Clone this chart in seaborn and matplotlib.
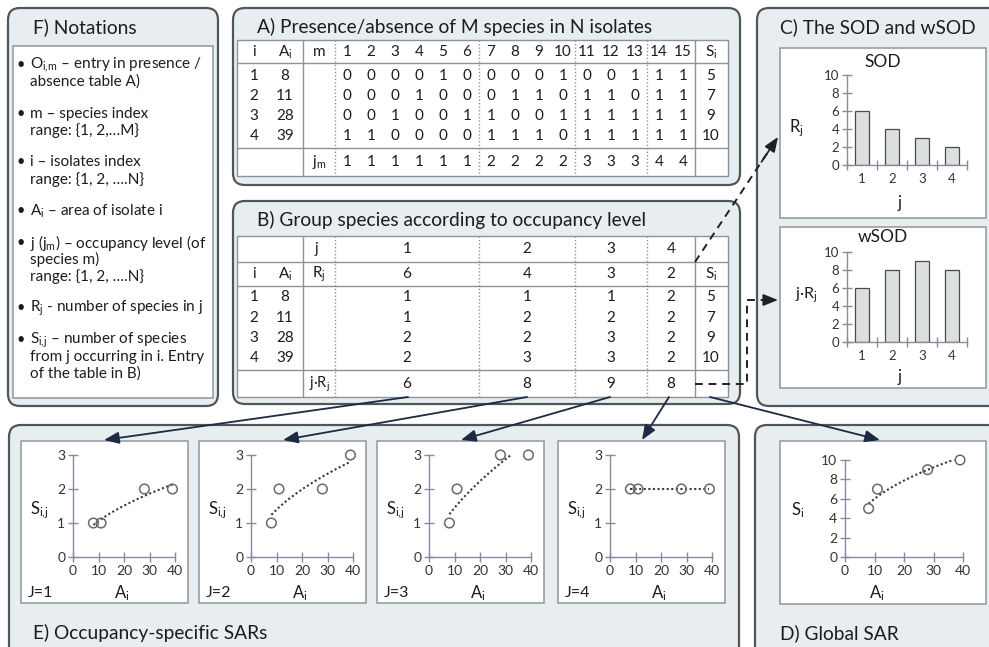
import numpy as np
import pandas as pd
import matplotlib
matplotlib.use("Agg")
import matplotlib.pyplot as plt
from matplotlib.patches import FancyBboxPatch, Rectangle, FancyArrowPatch
import seaborn as sns

# ---------------- data ----------------
isolate_ids = [1, 2, 3, 4]
isolate_area = [8, 11, 28, 39]
species_ids = list(range(1, 16))
presence = [
    [0, 0, 0, 0, 1, 0, 0, 0, 0, 1, 0, 0, 1, 1, 1],
    [0, 0, 0, 1, 0, 0, 0, 1, 1, 0, 1, 1, 0, 1, 1],
    [0, 0, 1, 0, 0, 1, 1, 0, 0, 1, 1, 1, 1, 1, 1],
    [1, 1, 0, 0, 0, 0, 1, 1, 1, 0, 1, 1, 1, 1, 1],
]
species_occupancy = [1, 1, 1, 1, 1, 1, 2, 2, 2, 2, 3, 3, 3, 4, 4]
isolate_richness = [5, 7, 9, 10]
occupancy_levels = [1, 2, 3, 4]
species_per_level = [6, 4, 3, 2]
weighted_per_level = [6, 8, 9, 8]
richness_by_level = [
    [1, 1, 1, 2],
    [1, 2, 2, 2],
    [2, 2, 3, 2],
    [2, 3, 3, 2],
]
sod_yticks = [0, 2, 4, 6, 8, 10]
sar_xticks = [0, 10, 20, 30, 40]
sar_yticks = [0, 1, 2, 3]
global_yticks = [0, 2, 4, 6, 8, 10]

notations = [
    [r"O$_{i,\!m}$ – entry in presence /", "absence table A)"],
    ["m – species index", "range: {1, 2,…M}"],
    ["i – isolates index", "range: {1, 2, ….N}"],
    ["A$_i$ – area of isolate i"],
    ["j (j$_m$) – occupancy level (of", "species m)", "range: {1, 2, ….N}"],
    ["R$_j$ - number of species in j"],
    [r"S$_{i,\!j}$ – number of species", "from j occurring in i. Entry", "of the table in B)"],
]

# ---------------- style ----------------
sns.set_theme(style="white")
plt.rcParams["font.family"] = ["Lato", "DejaVu Sans"]
plt.rcParams["mathtext.fontset"] = "custom"
plt.rcParams["mathtext.rm"] = "Lato"
plt.rcParams["mathtext.it"] = "Lato"
plt.rcParams["mathtext.default"] = "regular"

W, H = 989, 647
PANEL_FC = "#e8edef"
PANEL_EC = "#50575c"
BOX_EC = "#8e979c"
TABLE_EC = "#8a9398"
TXT = "#1c1c1c"
AXIS_C = "#8a8a9c"
BAR_FC = "#dcdfdf"
BAR_EC = "#4a4a4a"
MARK_C = "#6a6a6a"
TREND_C = "#3a3a3a"
ARROW_C = "#1e2a44"

fig = plt.figure(figsize=(W / 100, H / 100), dpi=100)
canvas = fig.add_axes([0, 0, 1, 1])
canvas.set_xlim(0, W)
canvas.set_ylim(H, 0)
canvas.axis("off")


def rounded(x0, y0, x1, y1, r=12, fc=PANEL_FC, ec=PANEL_EC, lw=1.6, z=1):
    canvas.add_patch(FancyBboxPatch((x0, y0), x1 - x0, y1 - y0,
                                    boxstyle=f"round,pad=0,rounding_size={r}",
                                    fc=fc, ec=ec, lw=lw, zorder=z))


def white_box(x0, y0, x1, y1):
    canvas.add_patch(Rectangle((x0, y0), x1 - x0, y1 - y0, fc="white",
                               ec=BOX_EC, lw=1.1, zorder=2))


def txt(x, y, s, size=11, ha="center", va="center", **kw):
    canvas.text(x, y, s, fontsize=size, ha=ha, va=va, color=TXT, zorder=5, **kw)


def hline(y, x0, x1, dotted=False):
    canvas.plot([x0, x1], [y, y], color=TABLE_EC, lw=1.0,
                ls=(0, (1, 1.5)) if dotted else "-", zorder=4)


def vline(x, y0, y1, dotted=False):
    canvas.plot([x, x], [y0, y1], color=TABLE_EC, lw=1.0,
                ls=(0, (1, 1.5)) if dotted else "-", zorder=4)


TITLE = 13.8
CELL = 11

# ---------------- panels ----------------
rounded(8, 8, 218, 406)       # F
rounded(233, 8, 740, 185)     # A
rounded(233, 201, 740, 404)   # B
rounded(757, 8, 1000, 406)    # C
rounded(9, 425, 739, 670)     # E
rounded(755, 425, 1000, 670)  # D

txt(33, 27, "F) Notations", TITLE, ha="left")
txt(257, 27, "A) Presence/absence of M species in N isolates", TITLE, ha="left")
txt(257, 220, "B) Group species according to occupancy level", TITLE, ha="left")
txt(780, 27, "C) The SOD and wSOD", TITLE, ha="left")
txt(33, 633, "E) Occupancy-specific SARs", TITLE, ha="left")
txt(780, 633, "D) Global SAR", TITLE, ha="left")

# ---------------- F: notations ----------------
white_box(13, 46, 213, 398)
y = 65
for item in notations:
    txt(21, y, "•", 10.5, ha="center")
    for k, line in enumerate(item):
        txt(30, y, line, 11, ha="left")
        y += 16.7
    y += 15.3

# ---------------- table geometry ----------------
TX0, TX1 = 237, 728
COL_SPLIT, COL_M, COL_S = 303, 335, 695
GROUP_LINES = [479, 575, 647]
X_I, X_A, X_M, X_S = 254, 285, 319, 711
species_x = [COL_M + 24 * (k + 0.5) for k in range(15)]
group_x = [407, 527, 611, 671]

# ---------------- A: presence / absence table ----------------
ay = [40, 63, 148, 176]
canvas.add_patch(Rectangle((TX0, ay[0]), TX1 - TX0, ay[-1] - ay[0], fc="white",
                           ec=TABLE_EC, lw=1.0, zorder=3))
for yy in ay[1:-1]:
    hline(yy, TX0, TX1)
for xx in (COL_SPLIT, COL_S):
    vline(xx, ay[0], ay[-1])
for xx in [COL_M] + GROUP_LINES:
    vline(xx, ay[0], ay[-1], dotted=True)

hy = 52
txt(X_I, hy, "i", CELL)
txt(X_A, hy, "A$_i$", CELL)
txt(X_M, hy, "m", CELL)
for sx, sid in zip(species_x, species_ids):
    txt(sx, hy, str(sid), CELL)
txt(X_S, hy, "S$_i$", CELL)

row_y = [76, 96, 116, 136]
for r, ry in enumerate(row_y):
    txt(X_I, ry, str(isolate_ids[r]), CELL)
    txt(X_A, ry, str(isolate_area[r]), CELL)
    for sx, v in zip(species_x, presence[r]):
        txt(sx, ry, str(v), CELL)
    txt(X_S, ry, str(isolate_richness[r]), CELL)

txt(X_M, 162, "j$_m$", CELL)
for sx, v in zip(species_x, species_occupancy):
    txt(sx, 162, str(v), CELL)

# ---------------- B: grouped table ----------------
by = [236, 262, 286, 370, 397]
canvas.add_patch(Rectangle((TX0, by[0]), TX1 - TX0, by[-1] - by[0], fc="white",
                           ec=TABLE_EC, lw=1.0, zorder=3))
for yy in by[1:-1]:
    hline(yy, TX0, TX1)
for xx in (COL_SPLIT, COL_S):
    vline(xx, by[0], by[-1])
for xx in [COL_M] + GROUP_LINES:
    vline(xx, by[0], by[-1], dotted=True)

txt(316, 249, "j", CELL)
for gx, jv in zip(group_x, occupancy_levels):
    txt(gx, 249, str(jv), CELL)
txt(X_I, 274, "i", CELL)
txt(X_A, 274, "A$_i$", CELL)
txt(X_M, 274, "R$_j$", CELL)
for gx, rv in zip(group_x, species_per_level):
    txt(gx, 274, str(rv), CELL)
txt(X_S, 274, "S$_i$", CELL)
brow_y = [297, 318, 338, 358]
for r, ry in enumerate(brow_y):
    txt(X_I, ry, str(isolate_ids[r]), CELL)
    txt(X_A, ry, str(isolate_area[r]), CELL)
    for gx, v in zip(group_x, richness_by_level[r]):
        txt(gx, ry, str(v), CELL)
    txt(X_S, ry, str(isolate_richness[r]), CELL)
txt(X_M, 384, "j·R$_j$", 10.5)
for gx, v in zip(group_x, weighted_per_level):
    txt(gx, 384, str(v), CELL)


# ---------------- chart helpers ----------------
def inset(x0, y_top, x1, y_bot):
    ax = fig.add_axes([x0 / W, 1 - y_bot / H, (x1 - x0) / W, (y_bot - y_top) / H])
    ax.patch.set_alpha(0)
    ax.set_zorder(10)
    return ax


def style_axes(ax, size=10):
    for s in ("top", "right"):
        ax.spines[s].set_visible(False)
    for s in ("left", "bottom"):
        ax.spines[s].set_color(AXIS_C)
        ax.spines[s].set_linewidth(1.0)
    ax.tick_params(which="major", direction="inout", length=7, width=1.0,
                   color=AXIS_C, labelsize=size, labelcolor="#333333", pad=2)
    ax.tick_params(left=True, bottom=True)
    ax.set_xlabel("")
    ax.set_ylabel("")
    ax.grid(False)


def bar_chart(ax, values):
    df = pd.DataFrame({"j": occupancy_levels, "v": values})
    sns.barplot(data=df, x="j", y="v", color=BAR_FC, saturation=1, width=0.45,
                edgecolor=BAR_EC, linewidth=0.9, ax=ax)
    style_axes(ax, 9.5)
    ax.set_xlim(-0.5, 3.5)
    ax.set_ylim(0, 10)
    ax.set_yticks(sod_yticks)
    ax.set_xticks([-0.5, 0.5, 1.5, 2.5, 3.5])
    ax.set_xticklabels([])
    ax.set_xticks(range(4), minor=True)
    ax.set_xticklabels([str(v) for v in occupancy_levels], minor=True)
    ax.tick_params(axis="x", which="minor", length=0, labelsize=9.5,
                   labelcolor="#333333", pad=6)


def sar_chart(ax, richness, yticks, minor=False):
    df = pd.DataFrame({"A": isolate_area, "S": richness})
    slope, icpt = np.polyfit(np.log(isolate_area), np.log(richness), 1)
    xs = np.linspace(min(isolate_area), max(isolate_area), 120)
    sns.lineplot(x=xs, y=np.exp(icpt) * xs ** slope, ax=ax, color=TREND_C,
                 linestyle=(0, (1, 1.2)), linewidth=1.5)
    sns.scatterplot(data=df, x="A", y="S", ax=ax, s=48, marker="o", clip_on=False, zorder=5)
    pts = ax.collections[-1]
    pts.set_facecolor("none")
    pts.set_edgecolor(MARK_C)
    pts.set_linewidth(1.1)
    style_axes(ax, 10)
    ax.set_xlim(0, 40)
    ax.set_ylim(0, yticks[-1])
    ax.set_xticks(sar_xticks)
    ax.set_yticks(yticks)
    if minor:
        ax.set_xticks([5, 15, 25, 35], minor=True)
        ax.tick_params(axis="x", which="minor", direction="in", length=3,
                       width=1.0, color=AXIS_C)


# ---------------- C: SOD and wSOD ----------------
white_box(780, 48, 986, 218)
white_box(780, 227, 986, 388)
ax_sod = inset(847, 75, 967, 165)
bar_chart(ax_sod, species_per_level)
txt(883, 62, "SOD", 12.5)
txt(796, 128, "R$_j$", 12)
txt(900, 203, "j", 12)

ax_wsod = inset(847, 252, 967, 342)
bar_chart(ax_wsod, weighted_per_level)
txt(883, 237, "wSOD", 12.5)
txt(806, 295, "j·R$_j$", 11.5)
txt(900, 377, "j", 12)

# ---------------- E: occupancy-specific SARs ----------------
box_x = [21, 199, 377, 558]
for k, bx in enumerate(box_x):
    white_box(bx, 441, bx + 167, 603)
    ax = inset(bx + 52, 455, bx + 154, 557)
    sar_chart(ax, [row[k] for row in richness_by_level], sar_yticks, minor=(k == 1))
    txt(bx + 19, 510, r"S$_{i,\!j}$", 12)
    txt(bx + 7, 593, f"J={occupancy_levels[k]}", 11.5, ha="left")
    txt(bx + 101, 593, "A$_i$", 12)

# ---------------- D: global SAR ----------------
white_box(780, 441, 986, 604)
ax_d = inset(845, 460, 963, 557)
sar_chart(ax_d, isolate_richness, global_yticks)
txt(798, 510, "S$_i$", 12)
txt(877, 593, "A$_i$", 12)


# ---------------- arrows ----------------
def solid_arrow(p0, p1):
    canvas.add_patch(FancyArrowPatch(p0, p1, arrowstyle="-|>,head_length=0.75,head_width=0.3",
                                     mutation_scale=12, color=ARROW_C, lw=1.3,
                                     shrinkA=0, shrinkB=0, zorder=8))


def dashed_arrow(points):
    xs, ys = zip(*points)
    canvas.plot(xs[:-1] + (xs[-1] - (xs[-1] - xs[-2]) * 0.12,),
                ys[:-1] + (ys[-1] - (ys[-2] - ys[-2]) * 0 - (ys[-1] - ys[-2]) * 0.12,),
                color="#202020", lw=1.4, ls=(0, (4, 3)), zorder=8)
    p_start = (xs[-1] - (xs[-1] - xs[-2]) * 0.2, ys[-1] - (ys[-1] - ys[-2]) * 0.2)
    canvas.add_patch(FancyArrowPatch(p_start, (xs[-1], ys[-1]),
                                     arrowstyle="-|>,head_length=0.75,head_width=0.3",
                                     mutation_scale=12, color="#202020", lw=1.2,
                                     shrinkA=0, shrinkB=0, zorder=8))


dashed_arrow([(695, 262), (778, 137)])
dashed_arrow([(695, 384), (747, 384), (747, 300), (778, 300)])

starts = [(408, 397), (527, 397), (610, 397), (669, 397), (710, 397)]
ends = [(104, 440), (283, 440), (461, 440), (642, 440), (880, 440)]
for p0, p1 in zip(starts, ends):
    solid_arrow(p0, p1)

fig.savefig("out.png", dpi=100)
